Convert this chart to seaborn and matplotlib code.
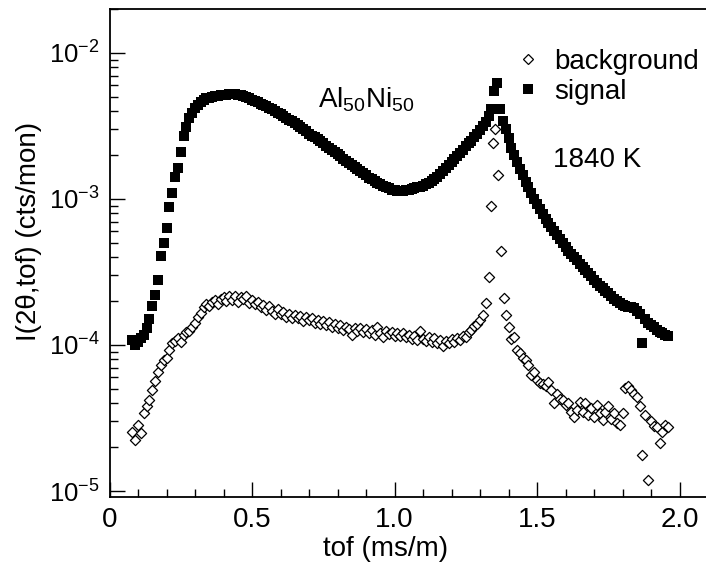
import numpy as np
import matplotlib
matplotlib.use("Agg")
import matplotlib.pyplot as plt
import seaborn as sns
from matplotlib.lines import Line2D
from matplotlib.ticker import MultipleLocator, LogLocator, NullFormatter

sns.set_style("ticks")
plt.rcParams["font.family"] = ["Liberation Sans", "DejaVu Sans"]
plt.rcParams["mathtext.fontset"] = "custom"
plt.rcParams["mathtext.rm"] = "Liberation Sans"
plt.rcParams["mathtext.it"] = "Liberation Sans:italic"
plt.rcParams["mathtext.bf"] = "Liberation Sans:bold"
for key in ["text.color", "axes.labelcolor", "xtick.color", "ytick.color", "axes.edgecolor"]:
    plt.rcParams[key] = "black"

# ---------------- data ----------------
channel_width = 0.01          # tof channel spacing (ms/m)

signal_start = 0.08
signal_1e4 = [                 # signal, units of 1e-4 cts/mon
    1.08, 1.00, 1.05, 1.11, 1.18, 1.30, 1.50, 1.85, 2.20, 2.80,
    4.1, 5.0, 6.3, 8.8, 11.0, 14.2, 16.4, 21.0, 27.0, 31.0,
    36.0, 39.0, 42.0, 44.0, 46.0, 47.5, 48.8, 49.5, 50.0, 50.5,
    51.0, 51.3, 51.6, 51.8, 52.0, 52.0, 52.0, 51.8, 51.5, 50.8,
    50.0, 49.0, 48.0, 47.0, 46.0, 45.0, 44.0, 43.0, 42.0, 41.0,
    40.0, 39.0, 38.0, 37.0, 36.0, 35.0, 34.0, 33.0, 32.0, 31.0,
    30.0, 29.0, 28.0, 27.2, 26.4, 25.6, 24.8, 24.0, 23.2, 22.5,
    21.8, 21.0, 20.3, 19.6, 18.9, 18.2, 17.6, 17.0, 16.5, 16.0,
    15.5, 15.0, 14.5, 14.0, 13.6, 13.2, 12.9, 12.6, 12.3, 12.0,
    11.8, 11.6, 11.5, 11.4, 11.4, 11.4, 11.5, 11.6, 11.7, 11.8,
    12.0, 12.1, 12.3, 12.6, 12.9, 13.3, 13.7, 14.2, 14.8, 15.5,
    16.3, 17.2, 18.0, 18.8, 19.7, 20.7, 21.8, 23.0, 24.0, 25.0,
    26.5, 28.0, 29.5, 31.5, 33.5, 37.0, 41.0, 55.0, 62.0, 41.0,
    34.0, 30.0, 26.0, 22.5, 20.0, 18.0, 16.0, 14.5, 13.0, 12.0,
    11.0, 10.0, 9.2, 8.5, 7.9, 7.3, 6.8, 6.4, 6.0, 5.7,
    5.3, 5.0, 4.7, 4.4, 4.2, 4.0, 3.8, 3.6, 3.4, 3.25,
    3.1, 2.95, 2.8, 2.67, 2.55, 2.45, 2.35, 2.26, 2.17, 2.08,
    2.0, 1.94, 1.89, 1.85, 1.82, 1.81, 1.79, 1.72, 1.62, 1.03,
    1.50, 1.42, 1.38, 1.32, 1.27, 1.23, 1.20, 1.18, 1.15,
]

background_a_start = 0.08
background_a_1e5 = [           # background before the Bragg peak, units of 1e-5
    2.55, 2.25, 2.85, 2.50, 3.40, 3.80, 4.20, 4.90, 5.70, 6.50,
    7.3, 7.9, 8.2, 9.2, 10.3, 10.6, 11.2, 10.5, 11.8, 12.2,
    12.5, 13.2, 14.1, 15.5, 16.6, 18.2, 19.0, 18.4, 19.8, 20.3,
    19.2, 20.6, 21.3, 20.0, 21.5, 20.4, 21.8, 19.6, 21.2, 20.8,
    21.5, 19.5, 20.4, 19.0, 19.6, 18.2, 18.9, 17.4, 18.5, 17.2,
    16.4, 17.6, 16.2, 16.8, 15.6, 16.4, 15.2, 16.0, 15.3, 15.8,
    14.6, 15.5, 14.8, 15.3, 14.2, 14.9, 14.0, 14.6, 13.6, 14.3,
    13.2, 14.0, 13.0, 13.8, 12.6, 13.3, 12.8, 11.8, 13.0, 12.4,
    13.1, 12.2, 12.9, 12.1, 12.6, 11.8, 13.2, 12.0, 11.4, 12.4,
    11.9, 12.3, 11.6, 12.1, 11.5, 12.0, 11.3, 11.8, 11.0, 11.6,
    10.9, 12.4, 11.0, 10.6, 11.4, 10.5, 11.2, 10.3, 10.9, 9.9,
    10.7, 10.4, 11.0, 10.5, 11.2, 10.8, 11.6, 11.3, 12.2, 12.6,
    13.4, 14.0, 14.8, 16.0, 19.3,
]

background_peak_tof = [1.330, 1.340, 1.347, 1.354, 1.364, 1.374, 1.384]
background_peak_1e5 = [29.0, 89.0, 241.0, 300.0, 146.0, 44.0, 21.0]

background_b_start = 1.39
background_b_1e5 = [           # background after the Bragg peak, units of 1e-5
    16.0, 13.3, 11.0, 11.3, 9.2, 8.8, 8.1, 7.9, 7.3, 6.2,
    6.5, 5.8, 5.5, 5.4, 5.2, 5.6, 4.9, 4.0, 4.6, 4.3,
    4.2, 3.9, 4.0, 3.5, 3.2, 3.6, 4.1, 3.5, 4.0, 3.3,
    3.7, 3.2, 3.9, 3.4, 3.06, 3.5, 3.8, 3.1, 3.4, 2.9,
    2.83, 3.4, 5.05, 5.2, 4.9, 4.6, 4.4, 3.8, 1.77, 3.3,
    1.19, 3.0, 2.8, 2.75, 2.12, 2.55, 2.83, 2.75,
]

x_ticks = [0.0, 0.5, 1.0, 1.5, 2.0]
x_tick_labels = ["0", "0.5", "1.0", "1.5", "2.0"]
y_ticks = [1e-5, 1e-4, 1e-3, 1e-2]
y_tick_labels = [r"$10^{-5}$", r"$10^{-4}$", r"$10^{-3}$", r"$10^{-2}$"]
series_labels = ["background", "signal"]

# ---------------- assemble ----------------
signal_tof = signal_start + channel_width * np.arange(len(signal_1e4))
signal = np.array(signal_1e4) * 1e-4
bg_tof = np.concatenate([
    background_a_start + channel_width * np.arange(len(background_a_1e5)),
    np.array(background_peak_tof),
    background_b_start + channel_width * np.arange(len(background_b_1e5)),
])
background = np.concatenate([background_a_1e5, background_peak_1e5, background_b_1e5]) * 1e-5

# ---------------- figure ----------------
FS = 20
fig = plt.figure(figsize=(7.06, 5.72), dpi=100)
ax = fig.add_axes([109.5 / 706, 75 / 572, 598.5 / 706, 488 / 572])

sns.scatterplot(x=signal_tof, y=signal, marker="s", s=48, color="black",
                edgecolor="black", linewidth=0, ax=ax, legend=False, zorder=3)
sns.scatterplot(x=bg_tof, y=background, marker="D", s=27, color="white",
                edgecolor="black", linewidth=0.9, ax=ax, legend=False, zorder=4)

ax.set_yscale("log")
ax.set_xlim(0, 2.1)
ax.set_ylim(9.1e-6, 2.0e-2)

ax.set_xticks(x_ticks, x_tick_labels)
ax.xaxis.set_minor_locator(MultipleLocator(0.1))
ax.set_yticks(y_ticks, y_tick_labels)
ax.yaxis.set_minor_locator(LogLocator(base=10, subs=np.arange(2, 10)))
ax.yaxis.set_minor_formatter(NullFormatter())

ax.tick_params(which="major", direction="in", length=11, width=1.0,
               top=False, right=False, color="black")
ax.tick_params(which="minor", direction="in", length=5.5, width=1.0,
               top=False, right=False, color="black")
ax.tick_params(axis="x", which="major", pad=7, labelsize=FS)
ax.tick_params(axis="y", which="major", pad=7, labelsize=18.5)
for sp in ax.spines.values():
    sp.set_linewidth(1.3)
    sp.set_color("black")

ax.set_xlabel("tof (ms/m)", fontsize=FS)
ax.xaxis.set_label_coords(0.462, -0.08, transform=ax.transAxes)
ax.xaxis.label.set_va("top")
ax.set_ylabel("I(2θ,tof) (cts/mon)", fontsize=FS)
ax.yaxis.set_label_coords(-0.112, 0.545)

handles = [
    Line2D([], [], ls="", marker="D", ms=5.2, mfc="white", mec="black", mew=0.9),
    Line2D([], [], ls="", marker="s", ms=6.9, mfc="black", mec="black", mew=0),
]
fig.legend(handles, series_labels, loc="upper left",
           bbox_to_anchor=(517.6 / 706, 1 - 49 / 572), frameon=False,
           fontsize=FS, handlelength=0.75, handletextpad=0.55,
           labelspacing=0.15, borderpad=0, borderaxespad=0)

fig.text(553 / 706, 1 - 167 / 572, "1840 K", fontsize=FS, ha="left", va="baseline")
fig.text(318 / 706, 1 - 107 / 572, r"Al$_{50}$Ni$_{50}$", fontsize=FS,
         ha="left", va="baseline")

fig.savefig("out.png", dpi=100)
